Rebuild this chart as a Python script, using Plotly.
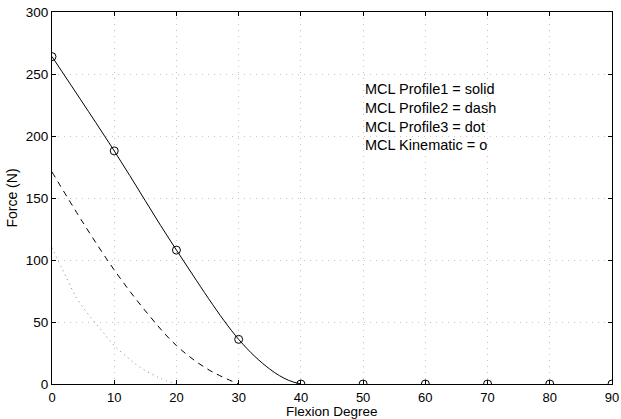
import plotly.graph_objects as go

# Flexion angle (degrees) and MCL force (N) for each profile
profile1_x = [0, 10, 20, 30, 35, 38, 40]
profile1_y = [264, 188, 108, 36, 12, 3, 0]

profile2_x = [0, 5, 10, 15, 20, 25, 30]
profile2_y = [171, 130, 92, 59, 31, 12, 0]

profile3_x = [0, 2, 4, 6, 8, 10, 12, 14, 17, 20]
profile3_y = [110, 89, 69, 55, 43, 31, 22, 14, 5.5, 0]

kinematic_x = [0, 10, 20, 30, 40, 50, 60, 70, 80, 90]
kinematic_y = [264, 188, 108, 36, 0, 0, 0, 0, 0, 0]

legend_lines = [
    "MCL Profile1 = solid",
    "MCL Profile2 = dash",
    "MCL Profile3 = dot",
    "MCL Kinematic = o",
]
legend_y = [238, 222.5, 207.5, 192.5]

x_ticks = [0, 10, 20, 30, 40, 50, 60, 70, 80, 90]
y_ticks = [0, 50, 100, 150, 200, 250, 300]

x_title = "Flexion Degree"
y_title = "Force (N)"

FONT = "Liberation Sans, Arial, Helvetica, sans-serif"

fig = go.Figure()
fig.add_trace(go.Scatter(x=profile3_x, y=profile3_y, mode="lines",
                         line=dict(color="#808080", width=1, dash="1px,4px", shape="spline")))
fig.add_trace(go.Scatter(x=profile2_x, y=profile2_y, mode="lines",
                         line=dict(color="black", width=1, dash="6px,5px", shape="spline")))
fig.add_trace(go.Scatter(x=profile1_x, y=profile1_y, mode="lines",
                         line=dict(color="black", width=1, shape="spline")))
fig.add_trace(go.Scatter(x=kinematic_x, y=kinematic_y, mode="markers",
                         marker=dict(symbol="circle-open", size=8, color="black",
                                     line=dict(width=1, color="black"))))

for text, yv in zip(legend_lines, legend_y):
    fig.add_annotation(x=50, y=yv, xref="x", yref="y", text=text, showarrow=False,
                       xanchor="left", yanchor="middle",
                       font=dict(family=FONT, size=14.5, color="black"))

# x-axis title placed just under the tick labels
fig.add_annotation(x=0.5, y=0, xref="paper", yref="paper", text=x_title,
                   showarrow=False, xanchor="center", yanchor="middle", yshift=-27.5,
                   font=dict(family=FONT, size=13.5, color="black"))

axis_common = dict(
    showline=True, linecolor="black", linewidth=1, mirror="ticks",
    ticks="inside", ticklen=4, tickcolor="black",
    showgrid=True, gridcolor="#c4c4c4", griddash="1px,5px", gridwidth=1,
    zeroline=False,
)

fig.update_xaxes(range=[0, 90], tickvals=x_ticks, ticktext=[str(v) for v in x_ticks],
                 tickfont=dict(family=FONT, size=13, color="black"),
                 ticklabelstandoff=1,
                 automargin=False, **axis_common)
fig.update_yaxes(range=[0, 300], tickvals=y_ticks, ticktext=[str(v) for v in y_ticks],
                 tickfont=dict(family=FONT, size=13.5, color="black"),
                 title=dict(text=y_title, standoff=4,
                            font=dict(family=FONT, size=14, color="black")),
                 automargin=False, **axis_common)

fig.update_layout(
    width=621, height=419,
    margin=dict(l=52, r=9, t=12, b=35),
    paper_bgcolor="white", plot_bgcolor="white",
    showlegend=False,
)

fig.write_html("out.html")
